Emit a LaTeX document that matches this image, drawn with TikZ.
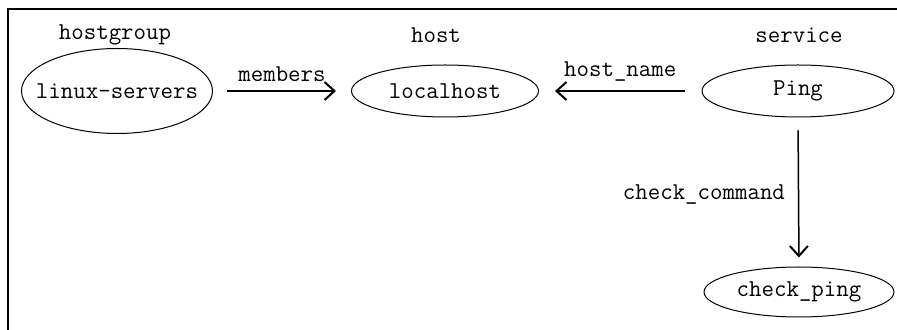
\documentclass[tikz,border=0pt]{standalone}
\usepackage{fontspec}
\usetikzlibrary{shapes.geometric,arrows.meta}
\begin{document}
\begin{tikzpicture}[x=0.5pt,y=-0.5pt,
  font=\ttfamily\fontsize{12.1}{14}\selectfont,
  obj/.style={ellipse, draw, line width=0.5pt, inner sep=0pt},
  rel/.style={-{Straight Barb[length=5pt,width=9pt,line width=1pt]}, line width=0.75pt}]
\useasboundingbox (0,0) rectangle (897,330);
\draw[line width=0.75pt] (8,330) |- (897,9);
\node (kind0) at (115,35){hostgroup};
\node (kind1) at (436,35){host};
\node (kind2) at (799,35){service};
\node[obj, minimum width=95.5pt, minimum height=42.5pt] (obj0) at (117,91){\makebox[0pt]{linux-servers}};
\node[obj, minimum width=93.5pt, minimum height=26pt] (obj1) at (445,91){\makebox[0pt]{localhost}};
\node[obj, minimum width=96pt, minimum height=26pt] (obj2) at (798,91){\makebox[0pt]{Ping}};
\node[obj, minimum width=95pt, minimum height=25pt] (obj3) at (799,292){\makebox[0pt]{check\_ping}};
\draw[rel, shorten <=7pt, shorten >=7.5pt](obj0) -- node[above=1pt]{members} (obj1);
\draw[rel, shorten <=8.5pt, shorten >=8pt](obj2) -- node[above=1pt]{host\_name} (obj1);
\draw[rel, shorten <=6.5pt, shorten >=4.5pt](obj2.south) -- (obj3.north);
\node[anchor=east] (lab0) at (792,195){check\_command};
\end{tikzpicture}
\end{document}
